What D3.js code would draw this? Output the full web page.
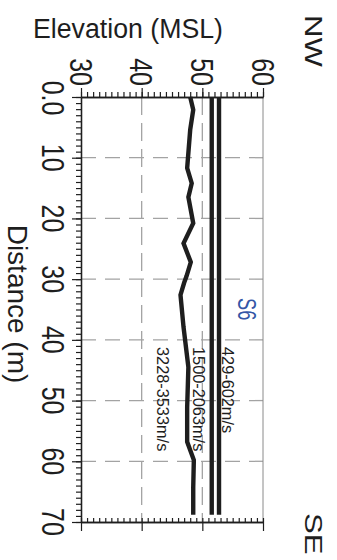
<!DOCTYPE html>
<html><head><meta charset="utf-8">
<script src="https://cdn.jsdelivr.net/npm/d3@7"></script>
<style>
html,body{margin:0;padding:0;background:#fff;}
svg{display:block;font-family:"Liberation Sans",Arial,Helvetica,sans-serif;}
</style></head>
<body>
<svg id="c" width="337" height="560"></svg>
<script>
// ---- data ----
const elevTicks = [30, 40, 50, 60];
const distTicks = [0, 10, 20, 30, 40, 50, 60, 70];
const distTickLabels = ["0.0", "10", "20", "30", "40", "50", "60", "70"];
// boundary 1: ground surface (top of 429-602 m/s layer)
const surfDist = [0, 68.8];
const surfElev = [52.75, 52.75];
// boundary 2: top of 1500-2063 m/s layer
const l2Dist = [0, 68.8];
const l2Elev = [51.55, 51.55];
// boundary 3: top of 3228-3533 m/s layer
const l3Dist = [0, 2.1, 5.4, 11.7, 14.2, 16.5, 20.8, 24.1, 27.2, 29.5, 30.6, 32.6, 37.9, 44.5, 51.1, 56.8, 59.8, 64.3, 68.8];
const l3Elev = [48.0, 48.5, 48.0, 47.5, 48.25, 47.7, 48.5, 46.9, 48.1, 47.4, 47.0, 46.4, 46.9, 47.7, 47.5, 47.5, 48.6, 48.5, 48.5];
const velLabels = ["429-602m/s", "1500-2063m/s", "3228-3533m/s"];
const lineName = "S6";

// ---- scales ----
const x = d3.scaleLinear().domain([30, 60]).range([81, 263]);   // elevation (horizontal)
const y = d3.scaleLinear().domain([0, 70]).range([97, 522]);    // distance (vertical)

const svg = d3.select("#c");
const gray = "#a3a3a3";
const ink = "#1e1e1e";

// grid lines
const grid = svg.append("g").attr("stroke", gray).attr("stroke-width", 1.3).attr("fill", "none");
grid.selectAll("line.h").data(distTicks.slice(1, -1)).join("line")
  .attr("x1", x(30)).attr("x2", x(60)).attr("y1", d => y(d)).attr("y2", d => y(d))
  .attr("stroke-dasharray", "15,9");
grid.selectAll("line.v").data([40, 50]).join("line")
  .attr("y1", y(0)).attr("y2", y(70)).attr("x1", d => x(d)).attr("x2", d => x(d))
  .attr("stroke-dasharray", "18,8");
grid.append("line").attr("x1", x(60)).attr("x2", x(60)).attr("y1", y(0)).attr("y2", y(70))
  .attr("stroke", "#8a8a8a").attr("stroke-width", 1);

// axes
function styleAxis(g, col) {
  g.select(".domain").attr("stroke", col).attr("stroke-width", 1.3);
  g.selectAll(".tick line").attr("stroke", col).attr("stroke-width", 1.2);
  g.selectAll(".tick text").remove();
}
svg.append("g").attr("transform", `translate(0,${y(0)})`)
  .call(d3.axisTop(x).tickValues(d3.range(30, 61, 1)).tickSize(5).tickSizeOuter(0).tickFormat(""))
  .call(g => styleAxis(g, ink));
svg.append("g").attr("transform", `translate(0,${y(0)})`)
  .call(d3.axisTop(x).tickValues(elevTicks).tickSize(9).tickSizeOuter(0).tickFormat(""))
  .call(g => styleAxis(g, ink));
svg.append("g").attr("transform", `translate(0,${y(70)})`)
  .call(d3.axisTop(x).tickValues(d3.range(30, 61, 1)).tickSize(4).tickSizeOuter(0).tickFormat(""))
  .call(g => styleAxis(g, ink));
svg.append("g").attr("transform", `translate(0,${y(70)})`)
  .call(d3.axisBottom(x).tickValues(elevTicks).tickSize(9).tickSizeOuter(0).tickFormat(""))
  .call(g => styleAxis(g, ink));
svg.append("g").attr("transform", `translate(${x(30)},0)`)
  .call(d3.axisLeft(y).tickValues(d3.range(0, 71, 1)).tickSize(5).tickSizeOuter(0).tickFormat(""))
  .call(g => styleAxis(g, ink));
svg.append("g").attr("transform", `translate(${x(30)},0)`)
  .call(d3.axisLeft(y).tickValues(distTicks).tickSize(9).tickSizeOuter(0).tickFormat(""))
  .call(g => styleAxis(g, ink));

// tick labels (rotated)
svg.append("g").selectAll("text").data(elevTicks).join("text")
  .attr("transform", d => `translate(${x(d) - 11.5},86) rotate(90) scale(0.78,1)`)
  .attr("text-anchor", "end").attr("font-size", 32).attr("fill", ink)
  .text(d => d);
svg.append("g").selectAll("text").data(distTicks).join("text")
  .attr("transform", (d, i) => `translate(42,${y(d) + (i === 0 ? 1 : 0)}) rotate(90) scale(0.78,1)`)
  .attr("text-anchor", "middle").attr("font-size", 32).attr("fill", ink)
  .text((d, i) => distTickLabels[i]);

// axis titles
svg.append("text").attr("x", 33).attr("y", 38).attr("font-size", 27).attr("fill", ink)
  .attr("textLength", 190).attr("lengthAdjust", "spacingAndGlyphs")
  .text("Elevation (MSL)");
svg.append("text").attr("transform", "translate(8,304) rotate(90)")
  .attr("text-anchor", "middle").attr("font-size", 28).attr("fill", ink)
  .text("Distance (m)");
svg.append("text").attr("transform", "translate(305,15) rotate(90) scale(1.3,1)")
  .attr("font-size", 24).attr("fill", ink).text("NW");
svg.append("text").attr("transform", "translate(305,513) rotate(90) scale(1.3,1)")
  .attr("font-size", 24).attr("fill", ink).text("SE");

// boundaries
const line = d3.line().x(d => x(d[1])).y(d => y(d[0]));
const layers = [
  { d: surfDist, e: surfElev },
  { d: l2Dist, e: l2Elev },
  { d: l3Dist, e: l3Elev }
];
svg.append("g").selectAll("path").data(layers).join("path")
  .attr("d", L => line(L.d.map((v, i) => [v, L.e[i]])))
  .attr("fill", "none").attr("stroke", ink).attr("stroke-width", 4.4)
  .attr("stroke-linejoin", "miter");

// labels
svg.append("text").attr("transform", "translate(238,298) rotate(90) scale(0.7,1)")
  .attr("font-size", 26).attr("fill", "#3356a6").text(lineName);
const velX = [222, 193, 157];
svg.append("g").selectAll("text").data(velLabels).join("text")
  .attr("transform", (d, i) => `translate(${velX[i]},347) rotate(90) scale(0.96,1)`)
  .attr("font-size", 17).attr("fill", ink).text(d => d);
</script>
</body></html>
